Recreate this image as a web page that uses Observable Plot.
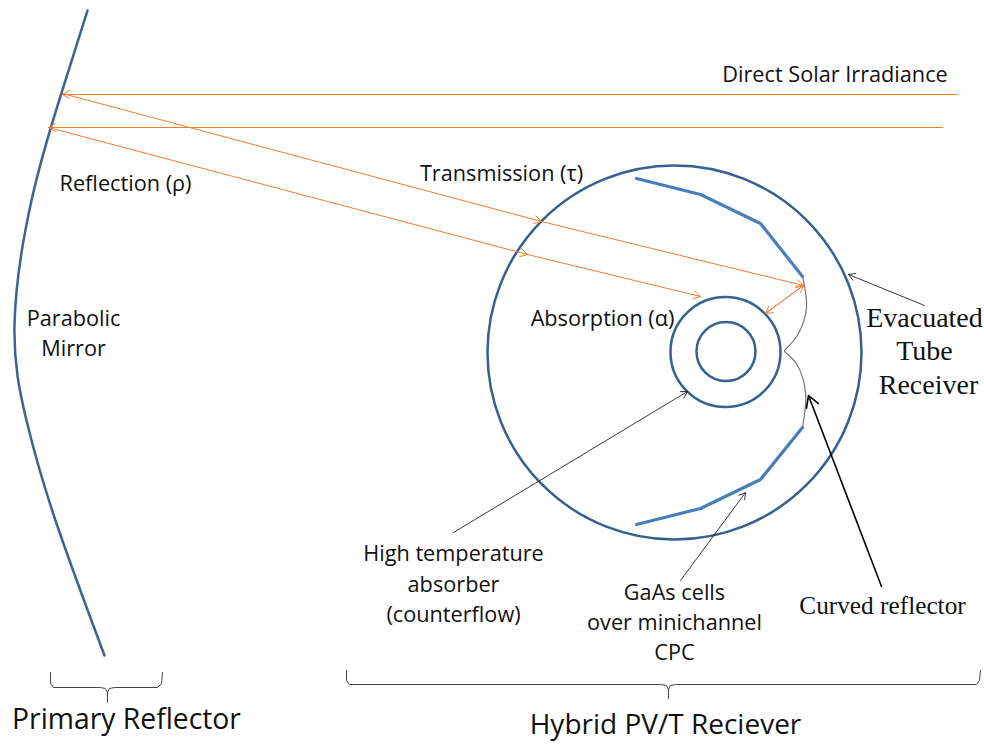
<!DOCTYPE html>
<html><head><meta charset="utf-8">
<script src="https://cdn.jsdelivr.net/npm/d3@7"></script>
<script src="https://cdn.jsdelivr.net/npm/@observablehq/plot@0.6"></script>
<style>html,body{margin:0;padding:0;background:#fff}</style>
</head><body>
<script>
const mirror = [[87,10],[60.5,94],[31,200],[14,325],[26,420],[55,520],[104,655]];
const cellsUpper = [[636,178],[700,194],[760,223],[802,276]];
const cellsLower = [[636,524],[700,508],[760,479],[802,427]];
const reflectorUpper = [[802,276],[806,307],[798,333],[784,350]];
const reflectorLower = [[784,351],[797,365],[805,392],[802,427]];
const tubes = [{cx:674,cy:352,radius:187},{cx:725,cy:351.5,radius:55},{cx:725.5,cy:351,radius:29.5}];
const orangeArrows = [
  [956,94,62,94],[942,127,48,127],
  [62,93,541,221],[541,221,803,285],
  [48,127,527,254],[527,254,700,296],
  [803,285,765,313],[765,313,803,285]
];
const thinBlackArrows = [[924,305,848,274],[453,532,687,391],[680,580,745,492]];
const thickBlackArrows = [[881,586,808,395]];
const braceLeft = [[50,672],[50,683],[53,687],[100,687],[105,688],[107,692],[109,688],[114,687],[157,687],[161,683],[162,672]];
const braceLeftStem = [[107,692],[107,702]];
const braceRight = [[346,670],[346,680],[349,684],[660,684],[666,685],[668,689],[670,685],[676,684],[976,684],[979,680],[980,670]];
const braceRightStem = [[668,689],[668,698]];
const sansLabels = [
  ["Direct Solar Irradiance",834.5,74.5],["Transmission (τ)",501,173.5],["Reflection (ρ)",125,183.5],
  ["Parabolic",73,318.5],["Mirror",73,348.5],["Absorption (α)",602,318.5],
  ["High temperature",453,553.5],["absorber",453,584.5],["(counterflow)",453,614.5],
  ["GaAs cells",674,592.5],["over minichannel",674,622.5],["CPC",674,652.5]
];
const primaryTitle = [["Primary Reflector",126,719.5]];
const hybridTitle = [["Hybrid PV/T Reciever",665,725]];
const serifLabels = [["Evacuated",924,318],["Tube",924,351],["Receiver",928,385]];
const serifSmall = [["Curved reflector",882,605]];

const toRows = (a)=>a.map(([x,y])=>({x,y}));
const line = (a,o)=>Plot.line(toRows(a),{x:"x",y:"y",...o});
const arrows = (a,o)=>Plot.arrow(a.map(([x1,y1,x2,y2])=>({x1,y1,x2,y2})),{x1:"x1",y1:"y1",x2:"x2",y2:"y2",...o});
const text = (a,o)=>Plot.text(a.map(([t,x,y])=>({t,x,y})),{x:"x",y:"y",text:"t",fill:"#111",...o});

const chart = Plot.plot({
  width:984,height:744,margin:0,
  style:{background:"#fff"},
  x:{domain:[0,984],range:[0,984],axis:null},
  y:{domain:[0,744],range:[0,744],axis:null},
  r:{type:"identity"},
  marks:[
    line(mirror,{curve:"natural",stroke:"#3a6496",strokeWidth:2.5}),
    Plot.dot(tubes,{x:"cx",y:"cy",r:"radius",stroke:"#35608f",strokeWidth:2.5,fill:"none"}),
    line(cellsUpper,{stroke:"#4a7ebb",strokeWidth:3.2,curve:"linear"}),
    line(cellsLower,{stroke:"#4a7ebb",strokeWidth:3.2,curve:"linear"}),
    line(reflectorUpper,{curve:"catmull-rom",stroke:"#777",strokeWidth:1.2}),
    line(reflectorLower,{curve:"catmull-rom",stroke:"#777",strokeWidth:1.2}),
    arrows(orangeArrows,{stroke:"#ed7d31",strokeWidth:1,headLength:12,inset:0}),
    arrows(thinBlackArrows,{stroke:"#222",strokeWidth:0.9,headLength:12}),
    arrows(thickBlackArrows,{stroke:"#000",strokeWidth:1.6,headLength:12}),
    line(braceLeft,{stroke:"#444",strokeWidth:1,curve:"linear"}),
    line(braceLeftStem,{stroke:"#444",strokeWidth:1}),
    line(braceRight,{stroke:"#444",strokeWidth:1,curve:"linear"}),
    line(braceRightStem,{stroke:"#444",strokeWidth:1}),
    text(sansLabels,{fontFamily:"Open Sans",fontSize:21.7}),
    text(primaryTitle,{fontFamily:"Open Sans",fontSize:28.3}),
    text(hybridTitle,{fontFamily:"Open Sans",fontSize:28}),
    text(serifLabels,{fontFamily:"Liberation Serif",fontSize:28}),
    text(serifSmall,{fontFamily:"Liberation Serif",fontSize:25.3})
  ]
});
document.body.appendChild(chart);
</script>
</body></html>
